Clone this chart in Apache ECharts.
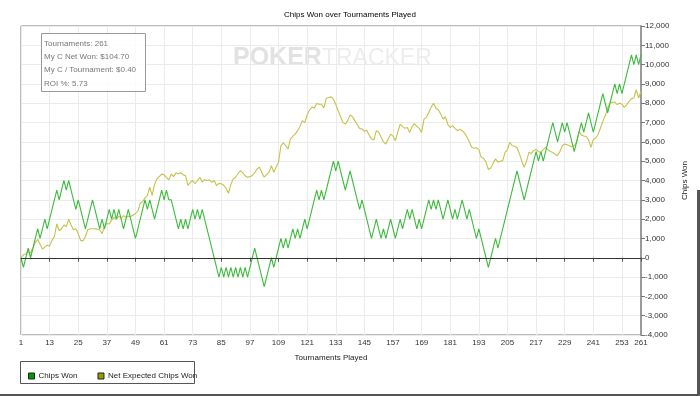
<!DOCTYPE html>
<html>
<head>
<meta charset="utf-8">
<script src="https://cdn.jsdelivr.net/npm/echarts@6/dist/echarts.min.js"></script>
<style>
html,body{margin:0;padding:0;background:#fff;}
#chart{width:700px;height:396px;}
</style>
</head>
<body>
<div id="chart"></div>
<script>
const chartTitle = 'Chips Won over Tournaments Played';
const seriesNames = ['Chips Won', 'Net Expected Chips Won'];
const xTickLabels = [1, 13, 25, 37, 49, 61, 73, 85, 97, 109, 121, 133, 145, 157, 169, 181, 193, 205, 217, 229, 241, 253, 261];
const infoLines = ['Tournaments: 261', 'My C Net Won: $104.70', 'My C / Tournament: $0.40', 'ROI %: 5.73'];

const chipsWon = [
  0, -500, 0, 500, 0, 500, 1000, 1500, 1000, 1500,
  2000, 1500, 2000, 2500, 3000, 3500, 3000, 3500, 4000, 3500,
  4000, 3500, 3000, 2500, 3000, 2500, 2000, 1500, 2000, 2500,
  3000, 2500, 2000, 1500, 2000, 1500, 2000, 2500, 2000, 2500,
  2000, 2500, 2000, 1500, 2000, 2500, 2000, 1500, 1000, 1500,
  2000, 2500, 3000, 2500, 3000, 2500, 2000, 2500, 3000, 3500,
  3000, 3500, 3000, 3000, 2500, 2000, 1500, 2000, 1500, 2000,
  1500, 2000, 2500, 2000, 2500, 2000, 2500, 2000, 1500, 1000,
  500, 0, -500, -1000, -500, -1000, -500, -1000, -500, -1000,
  -500, -1000, -500, -1000, -500, -1000, -500, 0, 500, 0,
  -500, -1000, -1500, -1000, -500, 0, -500, 0, 500, 1000,
  500, 1000, 500, 1000, 1500, 1000, 1500, 1000, 1500, 2000,
  1500, 2000, 2500, 3000, 3500, 3000, 3500, 3000, 3500, 4000,
  4500, 5000, 4500, 5000, 4500, 4000, 3500, 4000, 4500, 4000,
  3500, 3000, 2500, 3000, 2500, 2000, 1500, 1000, 1500, 2000,
  1500, 1000, 1500, 1000, 1500, 2000, 1500, 1000, 1500, 2000,
  1500, 2000, 2500, 2000, 2500, 2000, 1500, 2000, 1500, 2000,
  2500, 3000, 2500, 3000, 2500, 3000, 2500, 2000, 2500, 3000,
  2500, 2000, 2500, 2000, 2500, 3000, 2500, 2000, 2500, 2000,
  1500, 1000, 1500, 1000, 500, 0, -500, 0, 500, 1000,
  500, 1000, 1500, 2000, 2500, 3000, 3500, 4000, 4500, 4000,
  3500, 3000, 3500, 4000, 4500, 5000, 5500, 5000, 5500, 5000,
  5500, 6000, 6500, 7000, 6500, 6000, 6500, 7000, 6500, 7000,
  6500, 6000, 5500, 6000, 6500, 7000, 6500, 7000, 7500, 7000,
  6500, 7000, 7500, 8000, 8500, 8000, 7500, 8000, 8500, 9000,
  8500, 9000, 8500, 9000, 9500, 10000, 10500, 10000, 10500, 10000,
  10500
];

const netExpected = [
  0, 150, 200, 300, 250, 500, 800, 950, 700, 450,
  550, 650, 600, 900, 1100, 1750, 1400, 1500, 1700, 1600,
  2000, 1700, 1450, 1500, 1250, 900, 870, 1100, 1450, 1500,
  1500, 1500, 1480, 1450, 1250, 1600, 1780, 1750, 1950, 2080,
  2000, 2150, 2050, 2180, 2100, 2150, 2140, 2200, 2300, 2400,
  2830, 2900, 3100, 3230, 3650, 3230, 3800, 4080, 4200, 4340,
  4300, 4150, 4030, 4340, 4200, 4400, 4350, 4400, 4300, 4250,
  3740, 3900, 4000, 3830, 4000, 4170, 3910, 4050, 4000, 4030,
  3900, 4000, 3740, 3850, 3830, 3750, 3600, 3340, 3800, 4080,
  4170, 4350, 4510, 4400, 4250, 4170, 4200, 4260, 4400, 4600,
  4690, 4400, 4170, 4300, 4430, 4770, 4430, 4700, 4950, 5800,
  5950, 5800, 5630, 6150, 6300, 6400, 6580, 6800, 7100, 7000,
  7400, 7650, 7800, 7750, 7990, 7950, 7950, 7750, 8260, 8300,
  8330, 8210, 7950, 7610, 7300, 7010, 6920, 7100, 7400, 7300,
  7100, 6900, 6700, 6670, 6550, 6600, 6350, 6150, 6100, 6580,
  6500, 6240, 6000, 5890, 6150, 6400, 6300, 6060, 6500, 6920,
  6790, 6700, 6750, 6490, 6800, 6950, 6800, 6700, 6490, 7180,
  7270, 7520, 7800, 8000, 7730, 7660, 7450, 7180, 7300, 6900,
  6750, 6840, 6700, 6580, 6650, 6580, 6460, 6250, 6000, 5720,
  5670, 5700, 5600, 5200, 5150, 4950, 4570, 4650, 4900, 5120,
  4950, 5000, 5030, 5460, 5600, 5980, 5800, 5770, 5700, 5400,
  5000, 4690, 5000, 5460, 5400, 5550, 5600, 5500, 5450, 5600,
  5720, 5600, 5500, 5450, 5350, 5290, 5500, 5800, 5890, 5850,
  5800, 5750, 5800, 5980, 6530, 6360, 6300, 6290, 6100, 5720,
  6120, 6200, 6380, 6720, 7060, 7350, 7750, 8010, 8050, 8060,
  7930, 8010, 7950, 7790, 7930, 8100, 8240, 8270, 8700, 8270,
  8620
];

const tournaments = chipsWon.map((_, i) => String(i + 1));
const showTick = (idx, val) => xTickLabels.indexOf(Number(val)) !== -1;

const FONT = '"Liberation Sans", Arial, sans-serif';
const chart = echarts.init(document.getElementById('chart'), null, {renderer: 'canvas'});

chart.setOption({
  animation: false,
  backgroundColor: '#ffffff',
  title: {
    text: chartTitle,
    left: 'center',
    top: 6,
    textStyle: {fontFamily: FONT, fontSize: 8, fontWeight: 'normal', color: '#000'}
  },
  grid: {
    left: 21, right: 59, top: 26, bottom: 61,
    show: true, borderColor: '#7a7a7a', borderWidth: 1,
    containLabel: false
  },
  legend: {
    left: 23, top: 367,
    icon: 'rect', itemWidth: 6, itemHeight: 6, itemGap: 20,
    textStyle: {fontFamily: FONT, fontSize: 8, color: '#222', padding: [0, 0, 0, -1]},
    data: [
      {name: seriesNames[0], itemStyle: {color: '#009a00', borderColor: '#222', borderWidth: 1}},
      {name: seriesNames[1], itemStyle: {color: '#9a9a00', borderColor: '#222', borderWidth: 1}}
    ]
  },
  xAxis: {
    type: 'category',
    data: tournaments,
    boundaryGap: false,
    name: 'Tournaments Played',
    nameLocation: 'middle',
    nameGap: 19,
    nameTextStyle: {fontFamily: FONT, fontSize: 8, color: '#222'},
    axisLine: {lineStyle: {color: '#555', width: 1}},
    axisTick: {show: true, interval: showTick, length: 4, lineStyle: {color: '#555'}},
    axisLabel: {interval: showTick, fontFamily: FONT, fontSize: 8, color: '#333', margin: 4},
    splitLine: {show: true, interval: showTick, lineStyle: {color: '#ebebeb', width: 1}}
  },
  yAxis: {
    type: 'value',
    position: 'right',
    min: -4000, max: 12000, interval: 1000,
    name: 'Chips Won',
    nameLocation: 'middle',
    nameGap: 27,
    nameRotate: 90,
    nameTextStyle: {fontFamily: FONT, fontSize: 8, color: '#222'},
    axisLine: {show: true, lineStyle: {color: '#9a9a9a', width: 2}},
    axisTick: {show: true, length: 4, lineStyle: {color: '#777'}},
    axisLabel: {fontFamily: FONT, fontSize: 8, color: '#333', margin: 4},
    splitLine: {show: true, lineStyle: {color: '#ebebeb', width: 1}}
  },
  graphic: [
    {
      type: 'text', left: 233, top: 46, silent: true, z: -1,
      style: {
        text: '{a|POKER}{b|TRACKER}',
        rich: {
          a: {fontFamily: FONT, fontSize: 25, fontWeight: 'bold', fill: '#e2e2e2'},
          b: {fontFamily: FONT, fontSize: 23, fontWeight: 'normal', fill: '#ededed'}
        }
      }
    },
    {
      type: 'rect', silent: true, z: 10,
      shape: {x: 41.5, y: 33.5, width: 104, height: 58},
      style: {fill: 'rgba(255,255,255,0.85)', stroke: '#9a9a9a', lineWidth: 1}
    },
    {
      type: 'text', silent: true, z: 11, left: 44, top: 37,
      style: {
        text: infoLines.join('\n'),
        fontFamily: FONT, fontSize: 8, lineHeight: 13.3, fill: '#777'
      }
    },
    {
      type: 'rect', silent: true,
      shape: {x: 20.5, y: 361.5, width: 174, height: 22},
      style: {fill: 'none', stroke: '#555', lineWidth: 1}
    },
    {
      type: 'rect', silent: true,
      shape: {x: 0, y: 394, width: 700, height: 2},
      style: {fill: '#555'}
    },
    {
      type: 'rect', silent: true,
      shape: {x: 697, y: 190, width: 3, height: 206},
      style: {fill: '#555'}
    }
  ],
  series: [
    {
      name: seriesNames[0],
      type: 'line',
      data: chipsWon,
      showSymbol: false,
      symbol: 'none',
      lineStyle: {color: '#3dbb3d', width: 1.1},
      itemStyle: {color: '#3dbb3d'},
      z: 3,
      markLine: {
        silent: true, symbol: 'none',
        label: {show: false},
        lineStyle: {color: '#333', width: 1, type: 'solid'},
        data: [{yAxis: 0}]
      }
    },
    {
      name: seriesNames[1],
      type: 'line',
      data: netExpected,
      showSymbol: false,
      symbol: 'none',
      lineStyle: {color: '#c6c24a', width: 1.1},
      itemStyle: {color: '#c6c24a'},
      z: 2
    }
  ]
});
</script>
</body>
</html>
